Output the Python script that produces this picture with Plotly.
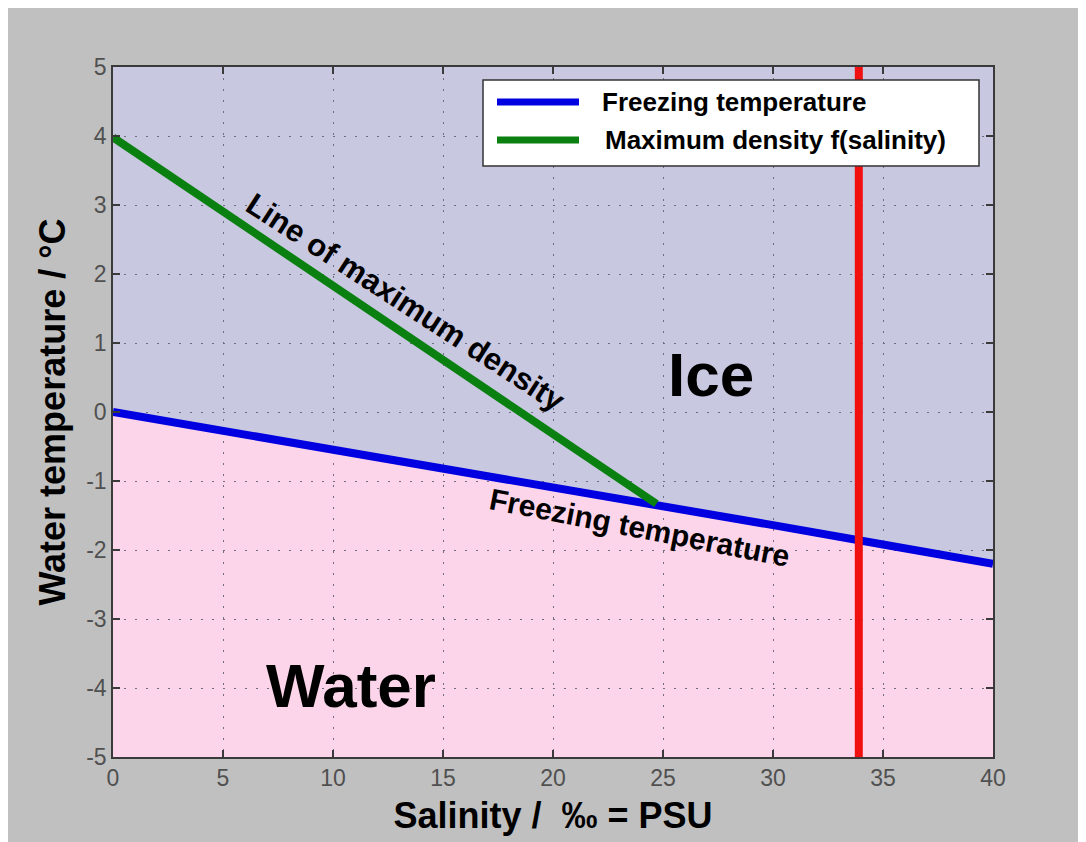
import plotly.graph_objects as go

# ---- data ----
salinity = [0, 5, 10, 15, 20, 25, 30, 35, 40]
freezing_temp = [0.0, -0.27, -0.54, -0.81, -1.08, -1.36, -1.64, -1.92, -2.20]

salinity_md = [0, 5, 10, 15, 20, 24.7]
max_density_temp = [3.98, 2.91, 1.84, 0.77, -0.30, -1.33]

ocean_salinity = [33.9, 33.9]
ocean_temp_span = [-5, 5]

x_ticks = [0, 5, 10, 15, 20, 25, 30, 35, 40]
y_ticks = [-5, -4, -3, -2, -1, 0, 1, 2, 3, 4, 5]

FONT = "Liberation Sans, Arial, sans-serif"

# page body has an 8px default margin; plot area target: x 113..993, y 67..757
W, H = 1078, 834
ML, MT, MR, MB = 105, 59, 93, 85
PX0, PY0 = 8 + ML, 8 + MT
PW, PH = 880, 690


def px(xpix):
    return (xpix - PX0) / PW


def py(ypix):
    return (PY0 + PH - ypix) / PH


fig = go.Figure()

fig.add_trace(go.Scatter(x=salinity, y=freezing_temp, mode="lines",
                         name="Freezing temperature",
                         line=dict(color="#0000e0", width=8), showlegend=False))
fig.add_trace(go.Scatter(x=salinity_md, y=max_density_temp, mode="lines",
                         name="Maximum density f(salinity)",
                         line=dict(color="#0a8010", width=8), showlegend=False))
fig.add_trace(go.Scatter(x=ocean_salinity, y=ocean_temp_span, mode="lines",
                         name="Ocean salinity",
                         line=dict(color="#f01010", width=8), showlegend=False))

# pink "water" region below the freezing curve (drawn under the grid)
path = "M {},{} ".format(salinity[0], y_ticks[0])
path += " ".join("L {},{}".format(s, t) for s, t in zip(salinity, freezing_temp))
path += " L {},{} Z".format(salinity[-1], y_ticks[0])
fig.add_shape(type="path", path=path, xref="x", yref="y", layer="below",
              fillcolor="#fdd5eb", line=dict(width=0))

# manual legend
fig.add_shape(type="rect", xref="paper", yref="paper",
              x0=px(483), x1=px(979), y0=py(166), y1=py(80),
              fillcolor="white", line=dict(color="#333333", width=1.5), layer="above")
legend_items = [("Freezing temperature", "#0000e0", 102, 600),
                ("Maximum density f(salinity)", "#0a8010", 140, 603)]
for label, col, ypix, tx in legend_items:
    fig.add_shape(type="line", xref="paper", yref="paper",
                  x0=px(497), x1=px(579), y0=py(ypix), y1=py(ypix),
                  line=dict(color=col, width=7), layer="above")
    fig.add_annotation(x=px(tx), y=py(ypix), xref="paper", yref="paper",
                       text="<b>" + label + "</b>", showarrow=False,
                       xanchor="left", yanchor="middle",
                       font=dict(family=FONT, size=26, color="black"))

# annotations in the plot
fig.add_annotation(x=13.3, y=1.58, text="<b>Line of maximum density</b>", showarrow=False,
                   textangle=33, font=dict(family=FONT, size=31, color="black"))
fig.add_annotation(x=23.95, y=-1.68, text="<b>Freezing temperature</b>", showarrow=False,
                   textangle=11, font=dict(family=FONT, size=30, color="black"))
fig.add_annotation(x=27.2, y=0.54, text="<b>Ice</b>", showarrow=False,
                   font=dict(family=FONT, size=62, color="black"))
fig.add_annotation(x=10.8, y=-3.96, text="<b>Water</b>", showarrow=False,
                   font=dict(family=FONT, size=62, color="black"))

axis_common = dict(
    showline=True, linecolor="#3a3a3a", linewidth=1.5, mirror="ticks",
    ticks="inside", ticklen=7, tickwidth=1.5, tickcolor="#3a3a3a",
    showgrid=True, gridcolor="#6e6e80", gridwidth=1.2, griddash="2px,9px",
    zeroline=False,
    tickfont=dict(family=FONT, size=23, color="#505050"),
)

fig.update_xaxes(range=[0, 40], tickvals=x_ticks, ticktext=[str(v) for v in x_ticks],
                 title=dict(text="<b>Salinity /\u00a0 ‰ = PSU</b>", standoff=12,
                            font=dict(family=FONT, size=36, color="black")),
                 **axis_common)
fig.update_yaxes(range=[-5, 5], tickvals=y_ticks, ticktext=[str(v) for v in y_ticks],
                 title=dict(text="<b>Water temperature / °C</b>", standoff=10,
                            font=dict(family=FONT, size=36, color="black")),
                 **axis_common)

fig.update_layout(
    width=W, height=H,
    margin=dict(l=ML, r=MR, t=MT, b=MB),
    paper_bgcolor="#c0c0c0",
    plot_bgcolor="#c8c8e0",
    showlegend=False,
)

fig.write_html("out.html")
